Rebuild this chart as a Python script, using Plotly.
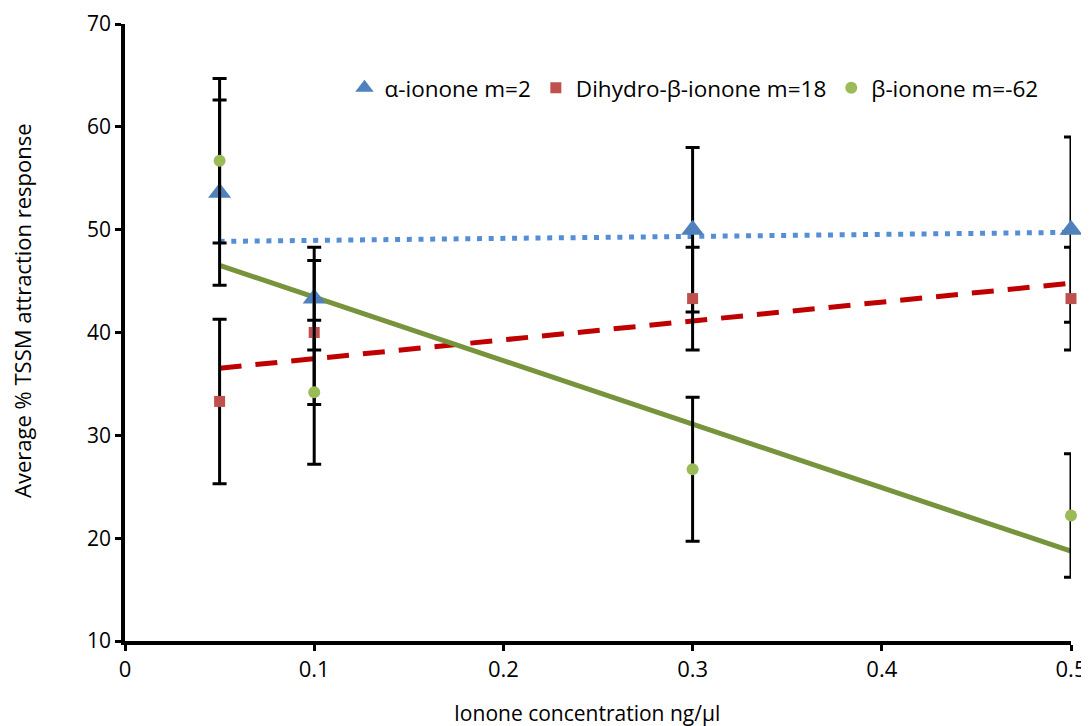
import numpy as np
import plotly.graph_objects as go

conc = [0.05, 0.1, 0.3, 0.5]
alpha_vals = [53.6, 43.3, 50.0, 50.0]
alpha_err = [9, 5, 8, 9]
dihydro_vals = [33.3, 40.0, 43.3, 43.3]
dihydro_err = [8, 7, 5, 5]
beta_vals = [56.7, 34.2, 26.7, 22.2]
beta_err = [8, 7, 7, 6]

names = ["α-ionone m=2", "Dihydro-β-ionone m=18", "β-ionone m=-62"]
x_title = "Ionone concentration ng/µl"
y_title = "Average % TSSM attraction response"
x_ticks = [0, 0.1, 0.2, 0.3, 0.4, 0.5]
x_ticklabels = ["0", "0.1", "0.2", "0.3", "0.4", "0.5"]
y_ticks = [10, 20, 30, 40, 50, 60, 70]

series = [
    (alpha_vals, alpha_err, names[0], "triangle-up", 20, "#4F81BD", "#558ED5", "5px,6.7px"),
    (dihydro_vals, dihydro_err, names[1], "square", 11, "#C0504D", "#C00000", "22px,14px"),
    (beta_vals, beta_err, names[2], "circle", 12, "#9BBB59", "#77933C", "solid"),
]

fig = go.Figure()
# trendlines (linear fits)
for vals, err, name, sym, size, mcol, lcol, dash in series:
    m, b = np.polyfit(conc, vals, 1)
    xs = [conc[0], conc[-1]]
    fig.add_trace(go.Scatter(
        x=xs, y=[m * xx + b for xx in xs], mode="lines",
        line=dict(color=lcol, width=5, dash=dash),
        showlegend=False, hoverinfo="skip", cliponaxis=False))

for vals, err, name, sym, size, mcol, lcol, dash in series:
    fig.add_trace(go.Scatter(
        x=conc, y=vals, mode="markers", name=name, cliponaxis=False,
        marker=dict(symbol=sym, size=size, color=mcol),
        error_y=dict(type="data", array=err, visible=True, color="black",
                     thickness=3, width=7)))

font_family = "Open Sans, Liberation Sans, sans-serif"
fig.update_layout(
    width=1081, height=718,
    margin=dict(l=117, r=18, t=16, b=85),
    plot_bgcolor="white", paper_bgcolor="white",
    font=dict(family=font_family, size=21, color="black"),
    legend=dict(orientation="h", x=0.232, y=0.896, xanchor="left", yanchor="middle",
                font=dict(size=22.5), bgcolor="rgba(0,0,0,0)", itemwidth=30),
    xaxis=dict(range=[0, 0.5], tickvals=x_ticks, ticktext=x_ticklabels, automargin=False,
               showgrid=False, zeroline=False, showline=True, linecolor="black",
               linewidth=3.5, ticks="outside", ticklen=6, tickwidth=3, tickcolor="black",
               tickfont=dict(size=22)),
    yaxis=dict(range=[10, 70], tickvals=y_ticks, showgrid=False, zeroline=False, automargin=False,
               showline=True, linecolor="black", linewidth=3.5, ticks="outside",
               ticklen=6, tickwidth=3, tickcolor="black",
               tickfont=dict(size=21)),
    annotations=[
        dict(text=x_title, xref="paper", yref="paper", x=0.488, y=0, xanchor="center",
             yanchor="middle", yshift=-72, showarrow=False, font=dict(size=21)),
        dict(text=y_title, xref="paper", yref="paper", x=0, y=0.535, xanchor="center",
             yanchor="middle", xshift=-103, textangle=-90, showarrow=False, font=dict(size=22)),
    ],
)
fig.write_html("out.html")
